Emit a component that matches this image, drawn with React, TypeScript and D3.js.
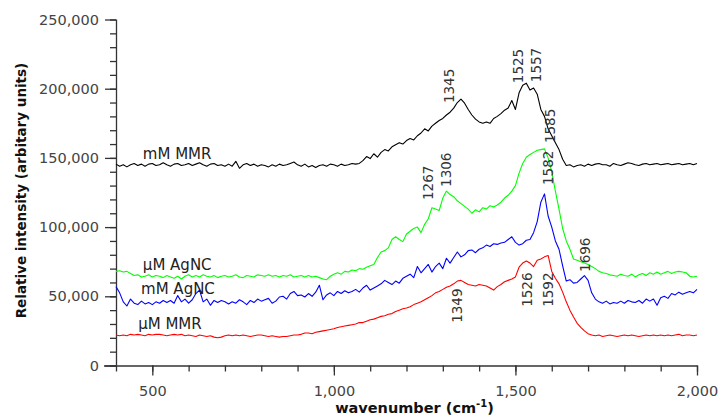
import React, { useEffect, useRef } from "react";
import * as d3 from "d3";

// wavenumber grid (cm-1), one reading every 10 cm-1
const wavenumbers = d3.range(400, 2001, 10);

// intensities in thousands (arbitrary units)
const mM_MMR = [
  145.5, 144, 145, 143.5, 145, 146, 144.5, 145.5, 144, 145.5,
  146, 144.5, 145, 146.5, 145, 144, 145.5, 146, 144.5, 145,
  146, 144.5, 145.5, 146.5, 145, 144, 145.5, 146, 144.5, 145,
  144, 145.5, 144, 147.5, 142.5, 145, 146, 144.5, 145.5, 144,
  145, 144.5, 143.5, 145, 144, 145.5, 144.5, 145, 146, 147,
  145, 144, 145.5, 143.5, 144.5, 143, 144.5, 145, 144, 145.5,
  145, 144, 145.5, 144.5, 145, 146, 145.5, 146, 148, 151,
  149.5, 153, 150.5, 154, 156, 155, 158, 159.5, 161, 160,
  162.5, 164, 163, 166, 168, 171, 169.5, 173, 175, 177,
  178.5, 181, 183, 186, 190, 192.5, 189.5, 185, 181, 178,
  176, 175, 176, 175, 178.5, 180, 182, 184.5, 186, 191.5,
  185, 197, 202.5, 204, 199, 200.5, 196, 185, 180, 171,
  166, 161, 156, 149, 144.5, 145, 143.5, 144.5, 145, 144,
  145.5, 144.5, 145.5, 146, 145, 145, 144, 146, 145, 144.5,
  145.5, 146.5, 146, 145, 144.5, 145.5, 146, 145, 145.5, 146,
  145, 145.5, 146, 145, 145.5, 146, 145, 145.5, 146, 145,
  146,
];

const uM_AgNC = [
  68, 68.5, 67.5, 68, 66.5, 65, 65.5, 64, 64.5, 65.5,
  64, 65, 64.5, 63.5, 65, 64, 63, 64.5, 62.5, 64.5,
  65.5, 64, 65, 64, 65.5, 64.5, 64, 65, 63.5, 64.5,
  65, 64, 64.5, 65.5, 64, 63.5, 65, 64.5, 64, 65.5,
  65, 64.5, 65.5, 64.5, 65, 64, 65, 64.5, 65.5, 64,
  64.5, 65, 64, 65, 64, 64.5, 63.5, 62.5, 62, 64.5,
  66, 67, 66, 68, 67.5, 69, 68.5, 70, 69.5, 71,
  72, 73, 78, 82, 83, 85, 91, 93, 91, 89.5,
  95, 97, 99, 100, 96, 102, 106, 114, 113, 112,
  121, 126, 123.5, 122, 119, 117, 115, 113, 110, 112.5,
  111, 114, 113, 115.5, 114.5, 116, 118, 121, 123, 126,
  130, 139, 146, 150.5, 152.5, 154, 155.5, 156, 156.5, 150,
  140, 126, 113, 99, 90, 84, 77, 76, 75, 74,
  73, 71.5, 70, 68, 67, 66.5, 65.5, 65, 64.5, 66,
  65, 64.5, 66, 64, 65.5, 66.5, 65, 67, 66, 67.5,
  66, 67, 68, 66.5, 67.5, 68, 67.5, 67, 64.5, 64,
  64.5,
];

const mM_AgNC = [
  57, 52.5, 46, 43, 48, 45, 44, 46.5, 44.5, 45.5,
  44, 46, 45, 47, 45.5, 47, 45, 50.5, 46, 48,
  45, 47.5, 52, 54.5, 46, 48, 43.5, 47, 45.5, 47,
  46, 44.5, 46, 45, 47.5, 46, 44, 47, 45.5, 48,
  46.5, 47.5, 48.5, 45, 46.5, 49.5, 50, 48, 52, 53.5,
  50.5, 51, 49.5, 52, 50, 53, 58, 47.5, 51, 52.5,
  50.5, 53.5, 52, 54, 52.5, 53.5, 55, 53, 56, 58,
  54.5, 56, 57.5, 59, 61.5, 60, 58.5, 61, 59.5, 63,
  64.5, 66, 63.5, 71.5, 67, 70, 73, 67.5, 71.5, 74,
  70, 77.5, 74, 78, 82, 78.5, 80, 83, 83.5, 81.5,
  84, 85, 87, 86, 88, 87.5, 88.5, 89, 91, 93,
  89, 87, 88, 90.5, 91, 96, 104, 118, 124, 108,
  100, 90, 84, 72, 61, 62, 59.5, 60, 62.5, 65,
  61.5, 52.5, 48, 46, 45, 46.5, 44.5, 45.5, 45, 46.5,
  45, 47, 46, 45.5, 47, 45, 48, 46.5, 48, 43.5,
  49, 50, 48.5, 52, 51, 53, 51.5, 52.5, 53.5, 52.5,
  55,
];

const uM_MMR = [
  22, 21.5, 22, 21.5, 22.5, 22, 22.5, 22, 21.5, 22.5,
  22, 22.5, 22.5, 22, 21.5, 22, 22.5, 22, 22.5, 21.5,
  22, 21.5, 21, 22, 21.5, 21, 21.5, 20.5, 20, 20.5,
  21.5, 22, 21.5, 22, 21.5, 22, 21.5, 21, 21.5, 22,
  22, 21.5, 21, 21.5, 21, 20.5, 21, 21, 21.5, 22,
  22, 22.5, 23.5, 23.5, 23, 24, 24.5, 25, 25.5, 26,
  26.5, 27.5, 28, 28.5, 29, 29.5, 30, 31, 31, 32,
  33, 33.5, 34.5, 35.5, 36, 37, 37.5, 39, 40, 41,
  41.5, 42.5, 44, 45, 46, 47.5, 49, 50.5, 52.5, 53.5,
  55, 56.5, 57.5, 59, 61, 61.5, 60, 58.5, 58, 57.5,
  58.5, 58, 57.5, 56, 54.5, 57, 58.5, 60.5, 61.5, 62.5,
  64, 71, 74, 75.5, 74, 71.5, 76, 77, 78.5, 79.5,
  68, 63, 59, 53, 46, 40, 35, 30.5, 27.5, 25,
  23, 22, 21.5, 22, 21, 21.5, 22, 21.5, 21, 21.5,
  22, 21.5, 22, 21.5, 21, 21.5, 22, 21.5, 22, 21.5,
  22, 21.5, 22, 21.5, 22, 22.5, 21.5, 22, 22, 21.5,
  22,
];

const seriesNames = ["mM MMR", "µM AgNC", "mM AgNC", "µM MMR"];
const seriesValues = [mM_MMR, uM_AgNC, mM_AgNC, uM_MMR];
const seriesColors = ["#000000", "#00ff00", "#0000ff", "#ff0000"];
// where each series name sits (wavenumber, intensity in thousands)
const seriesLabelX = [474, 474, 469, 461];
const seriesLabelY = [149, 69, 51.7, 26.5];

// annotated peaks: label text, wavenumber where it is placed, intensity where it starts
const peakWavenumbers = [1345, 1525, 1557, 1585, 1267, 1306, 1582, 1696, 1349, 1526, 1592];
const peakLabelAt = [1317, 1507, 1557, 1595, 1259, 1309, 1590, 1692, 1339, 1532, 1590];
const peakLabelLevels = [189.6, 204, 204.7, 160.7, 119.6, 129, 130.4, 67.6, 30.8, 42.4, 42.4];

const yMajorTicks = [0, 50, 100, 150, 200, 250];
const xMajorTicks = [500, 1000, 1500, 2000];

export default function App() {
  const ref = useRef<SVGSVGElement>(null);

  useEffect(() => {
    drawChart();
  });

  function drawChart() {
    const width = 720, height = 419;
    const margin = { top: 19.5, right: 23, bottom: 53.5, left: 116 };
    const svg = d3.select(ref.current);
    svg.selectAll("*").remove();

    const x = d3.scaleLinear().domain([400, 2000]).range([margin.left, width - margin.right]);
    const y = d3.scaleLinear().domain([0, 250]).range([height - margin.bottom, margin.top]);
    const font = "'DejaVu Sans', sans-serif";
    const axisColor = "#333";

    // y axis: minor ticks every 10k, labelled every 50k
    const yMinor = svg.append("g").attr("transform", `translate(${margin.left},0)`)
      .call(d3.axisLeft(y).tickValues(d3.range(0, 251, 10)).tickSize(6).tickFormat(() => ""));
    yMinor.select(".domain").remove();
    const yAxis = svg.append("g").attr("transform", `translate(${margin.left},0)`)
      .call(d3.axisLeft(y).tickValues(yMajorTicks).tickSize(11).tickPadding(6)
        .tickFormat((d) => d3.format(",")(+d * 1000)));
    yAxis.select(".domain").attr("d", `M0.5,${y(250)}V${y(0)}`);

    // x axis: minor ticks every 100, labelled every 500
    const xMinor = svg.append("g").attr("transform", `translate(0,${y(0)})`)
      .call(d3.axisBottom(x).tickValues(d3.range(400, 2001, 100)).tickSize(6).tickFormat(() => ""));
    xMinor.select(".domain").remove();
    const xAxis = svg.append("g").attr("transform", `translate(0,${y(0)})`)
      .call(d3.axisBottom(x).tickValues(xMajorTicks).tickSize(10).tickPadding(10)
        .tickFormat((d) => d3.format(",")(+d)));
    xAxis.select(".domain").attr("d", `M${x(400) - 12},0.5H${x(2000)}`);

    svg.selectAll(".tick line, .domain").attr("stroke", axisColor).attr("stroke-width", 1.3);
    svg.selectAll(".tick text").attr("font-family", font).attr("font-size", 14.5).attr("fill", "#444");

    // spectra
    const line = d3.line<number>()
      .x((_, i) => x(wavenumbers[i]))
      .y((d) => y(d));
    seriesValues.forEach((vals, k) => {
      svg.append("path")
        .datum(vals)
        .attr("d", line)
        .attr("fill", "none")
        .attr("stroke", seriesColors[k])
        .attr("stroke-width", 1.1)
        .attr("stroke-linejoin", "round");
    });

    // series names
    seriesNames.forEach((name, k) => {
      svg.append("text")
        .attr("x", x(seriesLabelX[k]))
        .attr("y", y(seriesLabelY[k]))
        .attr("font-family", font)
        .attr("font-size", 15)
        .attr("fill", "#222")
        .text(name);
    });

    // peak labels, reading upward
    peakWavenumbers.forEach((p, k) => {
      svg.append("text")
        .attr("transform", `translate(${x(peakLabelAt[k])},${y(peakLabelLevels[k])}) rotate(-90)`)
        .attr("dy", "0.36em")
        .attr("font-family", font)
        .attr("font-size", 13.5)
        .attr("fill", "#333")
        .text(String(p));
    });

    // axis titles
    svg.append("text")
      .attr("transform", `translate(21,${(y(0) + y(250)) / 2 - 2}) rotate(-90)`)
      .attr("text-anchor", "middle")
      .attr("dy", "0.36em")
      .attr("font-family", font)
      .attr("font-weight", "bold")
      .attr("font-size", 13.5)
      .attr("fill", "#111")
      .text("Relative intensity (arbitary units)");

    const xt = svg.append("text")
      .attr("x", (x(400) + x(2000)) / 2 + 8)
      .attr("y", 413)
      .attr("text-anchor", "middle")
      .attr("font-family", font)
      .attr("font-weight", "bold")
      .attr("font-size", 14.5)
      .attr("fill", "#111");
    xt.append("tspan").text("wavenumber (cm");
    xt.append("tspan").attr("font-size", 10).attr("dy", -6).text("-1");
    xt.append("tspan").attr("dy", 6).text(")");
  }

  return (
    <svg
      ref={ref}
      width={720}
      height={419}
      style={{ position: "absolute", left: 0, top: 0, background: "#fff" }}
    />
  );
}
